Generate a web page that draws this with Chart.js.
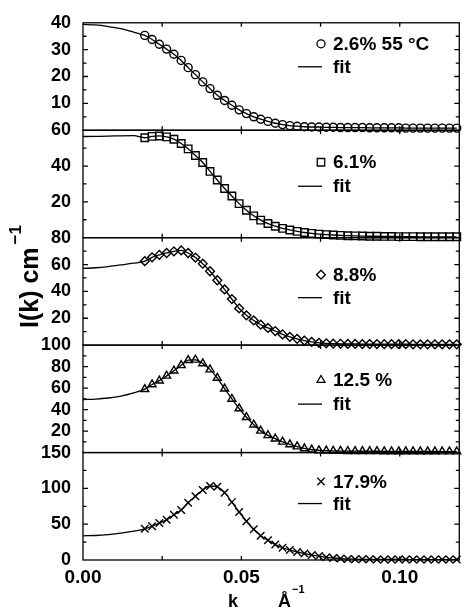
<!DOCTYPE html>
<html>
<head>
<meta charset="utf-8">
<script src="https://cdn.jsdelivr.net/npm/chart.js@4.4.1/dist/chart.umd.min.js"></script>
<style>
  html, body { margin: 0; padding: 0; background: #fff; }
  #wrap { position: relative; width: 466px; height: 612px; }
</style>
</head>
<body>
<div id="wrap"><canvas id="c"></canvas></div>
<script>
// measured k values (Å^-1), same grid for every sample
const kData = [
  0.0195, 0.0218, 0.0241, 0.0264, 0.0287, 0.0310, 0.0332, 0.0355, 0.0378, 0.0401,
  0.0424, 0.0447, 0.0470, 0.0493, 0.0516, 0.0539, 0.0561, 0.0584, 0.0607, 0.0630,
  0.0653, 0.0676, 0.0699, 0.0722, 0.0745, 0.0768, 0.0790, 0.0813, 0.0836, 0.0859,
  0.0882, 0.0905, 0.0928, 0.0951, 0.0974, 0.0997, 0.1019, 0.1042, 0.1065, 0.1088,
  0.1111, 0.1134, 0.1157, 0.1180
];
// fit curves start at k = 0, below the first measured point
const kFitHead = [0, 0.004, 0.008, 0.012, 0.016];

// I(k) in cm^-1, one array per concentration
const int26 = [
  35.3, 33.8, 32.0, 30.2, 28.3, 26.0, 23.3, 20.7, 18.0, 15.5,
  13.0, 11.1, 9.3, 7.6, 6.2, 5.0, 4.1, 3.3, 2.6, 2.1,
  1.7, 1.5, 1.3, 1.2, 1.2, 1.1, 1.1, 1.0, 1.0, 1.0,
  1.0, 0.9, 0.9, 0.9, 0.9, 0.9, 0.8, 0.8, 0.8, 0.8,
  0.8, 0.8, 0.8, 0.8
];
const int61 = [
  55.8, 56.6, 56.8, 56.3, 55.0, 52.6, 49.6, 45.9, 42.0, 37.0,
  32.2, 27.5, 23.3, 19.0, 15.3, 12.2, 9.8, 7.9, 6.4, 5.2,
  4.3, 3.5, 2.9, 2.4, 2.0, 1.7, 1.5, 1.3, 1.1, 1.0,
  0.9, 0.8, 0.8, 0.7, 0.7, 0.6, 0.6, 0.6, 0.5, 0.5,
  0.5, 0.5, 0.5, 0.5
];
const int88 = [
  62.5, 65.4, 67.2, 68.6, 69.8, 70.5, 68.6, 65.2, 60.6, 55.0,
  48.3, 41.5, 34.3, 27.3, 22.2, 18.4, 15.2, 12.8, 10.5, 8.0,
  6.2, 4.7, 3.4, 2.4, 1.7, 1.3, 1.1, 1.0, 0.9, 0.9,
  0.8, 0.8, 0.8, 0.7, 0.7, 0.7, 0.7, 0.6, 0.6, 0.6,
  0.6, 0.6, 0.6, 0.6
];
const int125 = [
  59.0, 63.4, 66.9, 71.4, 76.2, 81.2, 86.0, 86.3, 83.0, 77.2,
  69.4, 59.4, 49.9, 41.0, 32.9, 26.0, 20.2, 16.0, 12.9, 10.0,
  7.6, 5.6, 3.8, 2.6, 2.0, 1.7, 1.5, 1.4, 1.3, 1.3,
  1.2, 1.2, 1.2, 1.1, 1.1, 1.1, 1.0, 1.0, 1.0, 1.0,
  1.0, 0.9, 0.9, 0.9
];
const int179 = [
  43.5, 47.1, 51.6, 56.2, 63.1, 69.7, 80.0, 89.1, 97.8, 103.3,
  102.2, 94.0, 80.8, 67.0, 54.1, 42.9, 34.0, 27.5, 21.5, 17.1,
  13.9, 11.3, 9.0, 6.9, 5.6, 3.8, 2.8, 2.0, 1.5, 1.2,
  1.0, 0.9, 0.8, 0.8, 0.7, 0.7, 0.7, 0.6, 0.6, 0.6,
  0.6, 0.6, 0.6, 0.6
];

// fit values at kFitHead
const fit26 = [39.4, 39.2, 38.6, 37.8, 36.5];
const fit61 = [56.5, 56.6, 56.7, 56.9, 57.0];
const fit88 = [57.1, 57.6, 58.5, 59.7, 61.0];
const fit125 = [49.4, 49.8, 50.8, 52.6, 55.6];
const fit179 = [33.8, 34.2, 35.5, 37.5, 40.3];

const seriesLabels = ['2.6% 55 °C', '6.1%', '8.8%', '12.5 %', '17.9%'];
const yMax = [40, 60, 80, 100, 150];
const yStep = [10, 20, 20, 20, 50];
const xTickMarks = [0.025, 0.05, 0.075, 0.1];

const series = [int26, int61, int88, int125, int179];
const fitHeads = [fit26, fit61, fit88, fit125, fit179];
const axisIds = ['p1', 'p2', 'p3', 'p4', 'p5'];
const markers = ['circle', 'rect', 'rectRot', 'triangle', 'crossRot'];
const markerR = [4, 5.3, 4.4, 4.6, 5.3];
// legend rows: offset below panel top for sample row and fit row
const legendDy = [[21, 44], [32, 56], [37, 60], [35, 59], [29, 51]];

const FONT = "'Liberation Sans', Arial, Helvetica, sans-serif";

const datasets = [];
series.forEach((vals, p) => {
  datasets.push({
    label: seriesLabels[p] + ' fit',
    yAxisID: axisIds[p],
    data: kFitHead.map((k, j) => ({ x: k, y: fitHeads[p][j] }))
      .concat(kData.map((k, j) => ({ x: k, y: vals[j] }))),
    borderColor: '#000',
    borderWidth: 1.3,
    pointRadius: 0,
    cubicInterpolationMode: 'monotone',
    fill: false,
  });
  datasets.push({
    label: seriesLabels[p],
    yAxisID: axisIds[p],
    data: kData.map((k, j) => ({ x: k, y: vals[j] })),
    showLine: false,
    pointStyle: markers[p],
    pointRadius: markerR[p],
    pointBorderColor: '#000',
    pointBackgroundColor: 'rgba(0,0,0,0)',
    pointBorderWidth: 1.4,
    clip: false,
  });
});

const scales = {
  x: {
    type: 'linear', min: 0, max: 0.1188,
    border: { display: false },
    grid: { display: false, drawTicks: false },
    ticks: {
      stepSize: 0.05, includeBounds: false, padding: 6, color: '#000',
      font: { family: FONT, size: 19, weight: 'bold' },
      callback: v => v.toFixed(2),
    },
    afterFit: s => { s.height = 52; },
  },
};
// bottom panel first: the last stacked axis ends up on top
for (let p = 4; p >= 0; p--) {
  scales[axisIds[p]] = {
    type: 'linear', position: 'left', stack: 'panels', stackWeight: 1,
    min: 0, max: yMax[p],
    border: { display: false },
    grid: { display: false, drawTicks: false },
    ticks: {
      stepSize: yStep[p], padding: 12, color: '#000', autoSkip: false,
      font: { family: FONT, size: 18, weight: 'bold' },
      callback: v => (v === 0 && p < 4) ? null : v,
    },
    afterFit: s => { s.width = 83; },
  };
}

const framePlugin = {
  id: 'frame',
  afterDatasetsDraw(chart) {
    const { ctx, chartArea: a, scales: sc } = chart;
    const xs = sc.x;
    ctx.save();
    ctx.strokeStyle = '#000';
    ctx.lineWidth = 1.3;
    axisIds.forEach((id, p) => {
      const s = sc[id];
      ctx.strokeRect(a.left, s.top, a.right - a.left, s.bottom - s.top);
      ctx.beginPath();
      // y ticks, major at labelled values, minor halfway
      const half = yStep[p] / 2;
      for (let n = 1; n * half < yMax[p]; n++) {
        const y = s.getPixelForValue(n * half);
        const len = n % 2 === 0 ? 5 : 3.5;
        ctx.moveTo(a.left, y); ctx.lineTo(a.left + len, y);
        ctx.moveTo(a.right, y); ctx.lineTo(a.right - len, y);
      }
      // x ticks on top and bottom of every panel
      xTickMarks.forEach(k => {
        const x = xs.getPixelForValue(k);
        ctx.moveTo(x, s.top); ctx.lineTo(x, s.top + 4);
        ctx.moveTo(x, s.bottom); ctx.lineTo(x, s.bottom - 4);
      });
      ctx.stroke();

      // legend
      const y1 = s.top + legendDy[p][0];
      const y2 = s.top + legendDy[p][1];
      ctx.fillStyle = 'rgba(0,0,0,0)';
      ctx.lineWidth = 1.3;
      Chart.helpers.drawPoint(ctx, { pointStyle: markers[p], radius: markerR[p], rotation: 0, borderWidth: 1.3 }, 321, y1);
      ctx.lineWidth = 1.3;
      ctx.beginPath();
      ctx.moveTo(298, y2); ctx.lineTo(322, y2);
      ctx.stroke();
      ctx.fillStyle = '#000';
      ctx.font = 'bold 19px ' + FONT;
      ctx.textAlign = 'left';
      ctx.textBaseline = 'middle';
      ctx.fillText(seriesLabels[p], 333, y1 + 1);
      ctx.fillText('fit', 333, y2 + 1);
    });
    ctx.restore();
  },
  afterDraw(chart) {
    const { ctx } = chart;
    ctx.save();
    ctx.fillStyle = '#000';
    ctx.textAlign = 'left';
    ctx.textBaseline = 'alphabetic';
    // x title: k  Å^-1
    ctx.font = 'bold 18px ' + FONT;
    ctx.fillText('k', 228, 607);
    ctx.fillText('Å', 278, 607);
    ctx.font = 'bold 11px ' + FONT;
    ctx.fillText('−1', 292, 593);
    // y title: I(k) cm^-1, rotated
    ctx.translate(38, 328);
    ctx.rotate(-Math.PI / 2);
    ctx.font = 'bold 25px ' + FONT;
    const main = 'I(k) cm';
    ctx.fillText(main, 0, 0);
    const w = ctx.measureText(main).width;
    ctx.font = 'bold 17px ' + FONT;
    ctx.fillText('−1', w + 3, -17);
    ctx.restore();
  },
};

new Chart(document.getElementById('c'), {
  type: 'line',
  data: { datasets },
  options: {
    responsive: true,
    maintainAspectRatio: false,
    animation: false,
    layout: { padding: { left: 0, right: 3, top: 20, bottom: 0 } },
    plugins: { legend: { display: false }, tooltip: { enabled: false } },
    scales,
  },
  plugins: [framePlugin],
});
</script>
</body>
</html>
